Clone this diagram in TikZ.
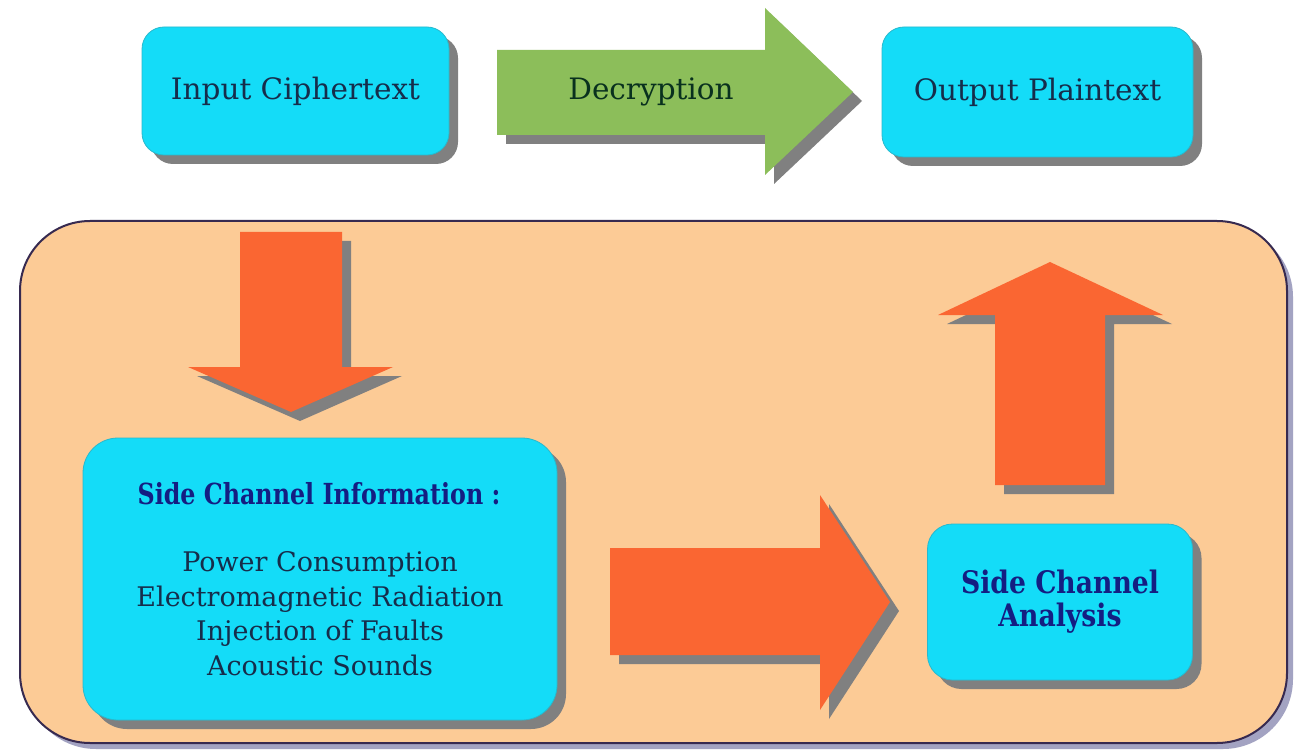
\documentclass[tikz,border=0pt]{standalone}
\usepackage{fontspec}
\setmainfont{DejaVu Serif}
\newfontfamily\bcond{DejaVu Serif}[FakeStretch=0.82]
\newfontfamily\bcondb{DejaVu Serif}[FakeStretch=0.86]
\usetikzlibrary{shadows}
\definecolor{cyanbox}{RGB}{20,220,248}
\definecolor{cyanedge}{RGB}{40,185,205}
\definecolor{navytxt}{RGB}{22,45,75}
\definecolor{bluetxt}{RGB}{20,30,130}
\definecolor{greenarr}{RGB}{140,190,90}
\definecolor{orangearr}{RGB}{250,102,50}
\definecolor{peach}{RGB}{252,203,150}
\definecolor{frameedge}{RGB}{55,42,80}
\definecolor{shadowgray}{RGB}{128,128,128}
\tikzset{
  shad/.style={drop shadow={shadow xshift=9pt, shadow yshift=-9pt, fill=shadowgray, opacity=1}},
  cbox/.style={draw=cyanedge, line width=0.8pt, fill=cyanbox, shad, inner sep=0pt,
    text=navytxt, font=\fontsize{29.5}{34.5}\selectfont, align=center},
  blockarrow/.style={shad},
}
\begin{document}
\begin{tikzpicture}[x=1pt,y=-1pt]
\useasboundingbox (0,0) rectangle (1298,751);
\fill[white] (0,0) rectangle (1298,751);
% frame
\node[draw=frameedge, line width=2pt, fill=peach, rounded corners=70pt,
  minimum width=1267pt, minimum height=522pt,
  drop shadow={shadow xshift=6pt, shadow yshift=-6pt, fill=gray!80!blue!60, opacity=1}]
  (frame) at (653.5,482) {};
% top boxes
\node[cbox, rounded corners=22pt, minimum width=307pt, minimum height=128pt] (in) at (295.5,91) {Input Ciphertext};
\node[cbox, rounded corners=22pt, minimum width=311pt, minimum height=130pt] (out) at (1037.5,92) {Output Plaintext};
% decryption arrow
\fill[greenarr, blockarrow] (497,50) -- (765,50) -- (765,8) -- (853,92) -- (765,175) -- (765,135) -- (497,135) -- cycle;
\node[text=black!80!green!60!navytxt, font=\fontsize{29.5}{34}\selectfont] (dec) at (651,92) {Decryption};
% down arrow
\fill[orangearr, blockarrow] (240,232) -- (342,232) -- (342,367) -- (393,367) -- (291,412) -- (188,367) -- (240,367) -- cycle;
% info box
\node[cbox, rounded corners=35pt, minimum width=474pt, minimum height=282pt] (info) at (320,579) {};
\node[text=bluetxt, font=\fontsize{29}{34}\bcond\bfseries] (infohead) at (319,494) {Side Channel Information :};
\node[text=navytxt, font=\fontsize{27}{34.5}\selectfont, align=center, anchor=north] (infolist) at (320,548)
  {Power Consumption\\Electromagnetic Radiation\\Injection of Faults\\Acoustic Sounds};
% right arrow
\fill[orangearr, blockarrow] (610,548) -- (820,548) -- (820,495) -- (890,602) -- (820,710) -- (820,655) -- (610,655) -- cycle;
% analysis box
\node[cbox, rounded corners=25pt, minimum width=265pt, minimum height=156pt, text=bluetxt,
  font=\fontsize{31}{33}\bcondb\bfseries] (sca) at (1060,602) {Side Channel\\Analysis};
% up arrow
\fill[orangearr, blockarrow] (995,485) -- (995,315) -- (938,315) -- (1050,262) -- (1163,315) -- (1105,315) -- (1105,485) -- cycle;
\end{tikzpicture}
\end{document}
